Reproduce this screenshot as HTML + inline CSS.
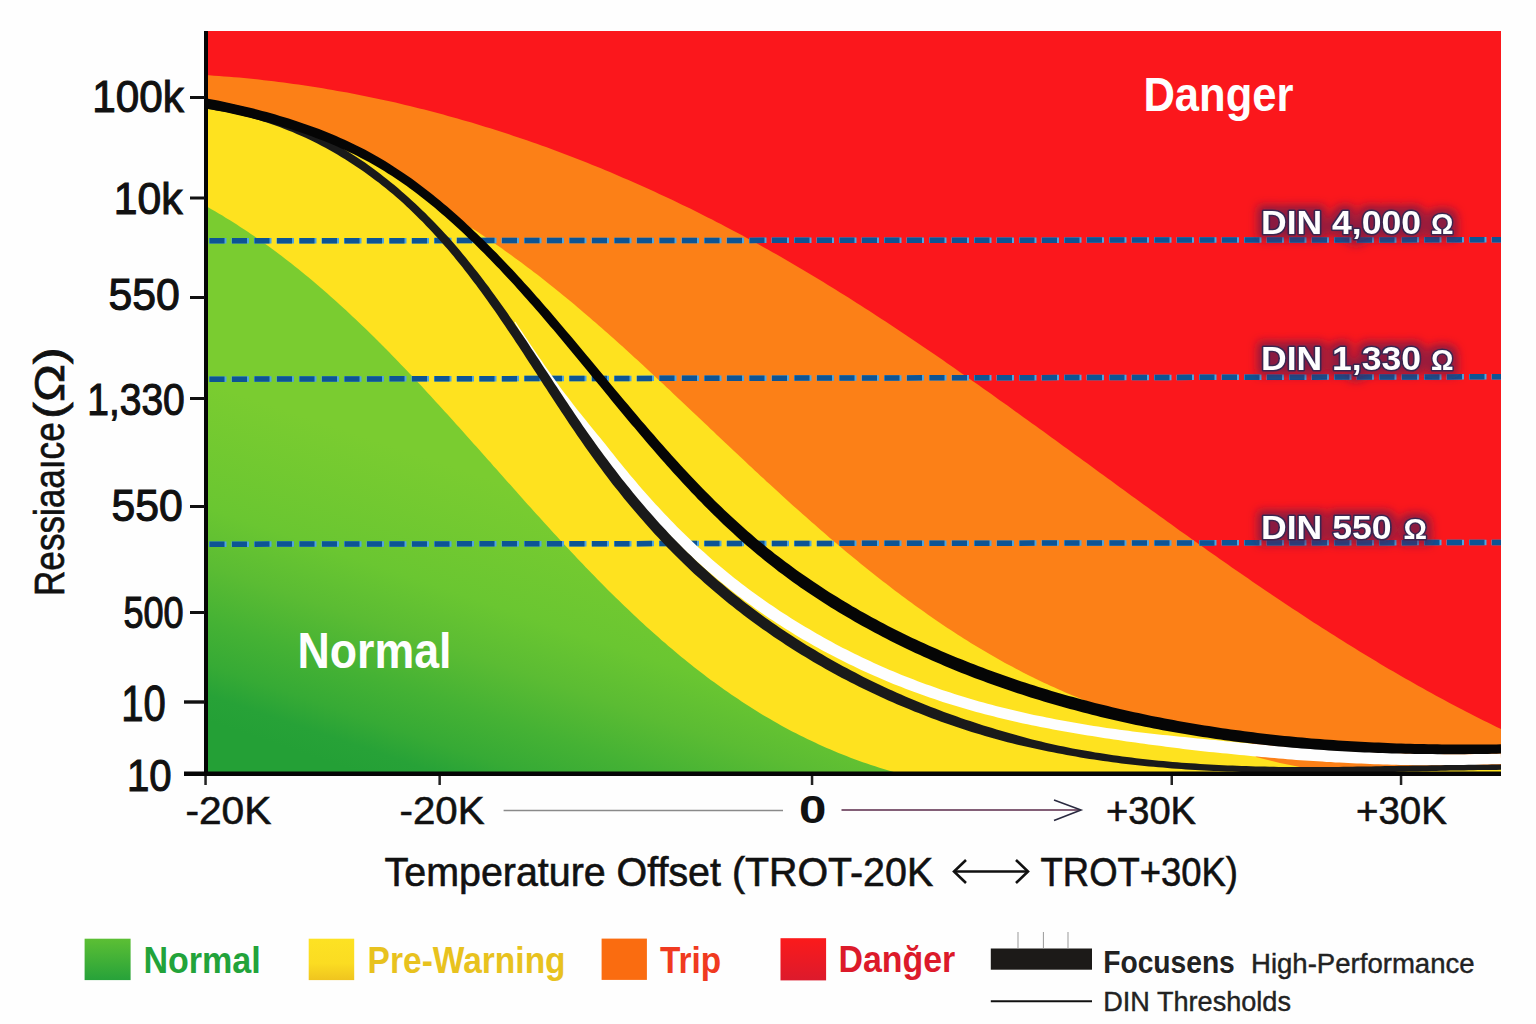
<!DOCTYPE html><html><head><meta charset="utf-8"><title>Resistance vs Temperature Offset</title><style>html,body{margin:0;padding:0;background:#fefefe;width:1536px;height:1024px;overflow:hidden;}svg{display:block;}text{font-family:"Liberation Sans", "DejaVu Sans", sans-serif;}</style></head><body>
<svg width="1536" height="1024" viewBox="0 0 1536 1024">
<defs>
<linearGradient id="gG" gradientUnits="userSpaceOnUse" x1="204" y1="720" x2="307" y2="417"><stop offset="0" stop-color="#24a036"/><stop offset="0.078" stop-color="#27a237"/><stop offset="0.166" stop-color="#36aa35"/><stop offset="0.3" stop-color="#45b234"/><stop offset="0.46" stop-color="#5bbc33"/><stop offset="0.63" stop-color="#6ac631"/><stop offset="1" stop-color="#7acc30"/></linearGradient>
<linearGradient id="lgG" x1="0" y1="0" x2="0" y2="1"><stop offset="0" stop-color="#5cbf34"/><stop offset="1" stop-color="#27a23a"/></linearGradient>
<linearGradient id="lgY" x1="0" y1="0" x2="0" y2="1"><stop offset="0" stop-color="#fde223"/><stop offset="0.6" stop-color="#fbdc22"/><stop offset="1" stop-color="#efc41f"/></linearGradient>
<linearGradient id="lgR" x1="0" y1="0" x2="0" y2="1"><stop offset="0" stop-color="#fb1a1b"/><stop offset="1" stop-color="#dc1a2c"/></linearGradient>
<filter id="dinfx" x="-10%" y="-30%" width="120%" height="160%"><feMorphology in="SourceAlpha" operator="dilate" radius="4" result="d"/><feGaussianBlur in="d" stdDeviation="5" result="b"/><feFlood flood-color="#5a1d50" flood-opacity="0.7"/><feComposite in2="b" operator="in" result="g"/><feMerge><feMergeNode in="g"/><feMergeNode in="SourceGraphic"/></feMerge></filter>
<clipPath id="plot"><rect x="206" y="31" width="1295" height="742"/></clipPath>
</defs>
<rect x="204" y="31" width="1297" height="742" fill="#fb171c"/>
<path d="M204.0,75.0 L209.0,75.3 L214.0,75.7 L219.0,76.0 L224.0,76.4 L229.0,76.8 L234.0,77.2 L239.0,77.6 L243.9,78.1 L248.9,78.6 L253.9,79.1 L258.8,79.6 L263.8,80.2 L268.7,80.7 L273.7,81.3 L278.6,81.9 L283.6,82.6 L288.5,83.2 L293.4,83.9 L298.3,84.6 L303.2,85.3 L308.1,86.0 L313.0,86.8 L317.9,87.6 L322.8,88.3 L327.7,89.2 L332.6,90.0 L337.4,90.9 L342.3,91.7 L347.2,92.6 L352.0,93.5 L356.9,94.5 L361.7,95.4 L366.6,96.4 L371.4,97.4 L376.2,98.4 L381.0,99.4 L385.9,100.5 L390.7,101.6 L395.5,102.6 L400.3,103.8 L405.1,104.9 L409.8,106.0 L414.6,107.2 L419.4,108.4 L424.2,109.6 L428.9,110.8 L433.7,112.0 L438.4,113.3 L443.2,114.6 L447.9,115.9 L452.6,117.2 L457.4,118.5 L462.1,119.9 L466.8,121.2 L471.5,122.6 L476.2,124.0 L480.9,125.4 L485.6,126.9 L490.3,128.3 L495.0,129.8 L499.6,131.3 L504.3,132.8 L509.0,134.3 L513.6,135.9 L518.3,137.4 L522.9,139.0 L527.5,140.6 L532.2,142.2 L536.8,143.8 L541.4,145.5 L546.0,147.1 L550.6,148.8 L555.2,150.5 L559.8,152.2 L564.4,153.9 L569.0,155.7 L573.6,157.5 L578.1,159.2 L582.7,161.0 L587.2,162.8 L591.8,164.7 L596.3,166.5 L600.9,168.3 L605.4,170.2 L609.9,172.1 L614.4,174.0 L618.9,175.9 L623.4,177.9 L627.9,179.8 L632.4,181.8 L636.9,183.7 L641.4,185.7 L645.9,187.8 L650.3,189.8 L654.8,191.8 L659.2,193.9 L663.7,195.9 L668.1,198.0 L672.5,200.1 L677.0,202.2 L681.4,204.4 L685.8,206.5 L690.2,208.6 L694.6,210.8 L699.0,213.0 L703.3,215.2 L707.7,217.4 L712.1,219.6 L716.5,221.9 L720.8,224.1 L725.2,226.4 L729.5,228.7 L733.8,231.0 L738.2,233.3 L742.5,235.6 L746.8,237.9 L751.1,240.3 L755.4,242.6 L759.7,245.0 L764.0,247.4 L768.3,249.8 L772.5,252.2 L776.8,254.6 L781.1,257.1 L785.3,259.5 L789.6,262.0 L793.8,264.5 L798.0,266.9 L802.3,269.4 L806.5,271.9 L810.7,274.5 L814.9,277.0 L819.1,279.5 L823.3,282.1 L827.5,284.7 L831.7,287.2 L835.8,289.8 L840.0,292.4 L844.2,295.0 L848.3,297.6 L852.5,300.3 L856.7,302.9 L860.8,305.5 L864.9,308.2 L869.1,310.8 L873.2,313.5 L877.3,316.2 L881.5,318.9 L885.6,321.6 L889.7,324.3 L893.8,327.0 L897.9,329.7 L902.0,332.5 L906.1,335.2 L910.2,337.9 L914.3,340.7 L918.4,343.4 L922.4,346.2 L926.5,349.0 L930.6,351.8 L934.7,354.5 L938.7,357.3 L942.8,360.1 L946.8,362.9 L950.9,365.8 L954.9,368.6 L959.0,371.4 L963.0,374.2 L967.1,377.1 L971.1,379.9 L975.2,382.7 L979.2,385.6 L983.2,388.4 L987.3,391.3 L991.3,394.1 L995.3,397.0 L999.3,399.9 L1003.4,402.7 L1007.4,405.6 L1011.4,408.5 L1015.4,411.4 L1019.4,414.3 L1023.4,417.2 L1027.4,420.0 L1031.4,422.9 L1035.5,425.8 L1039.5,428.7 L1043.5,431.6 L1047.5,434.5 L1051.5,437.4 L1055.5,440.3 L1059.5,443.3 L1063.5,446.2 L1067.5,449.1 L1071.5,452.0 L1075.5,454.9 L1079.5,457.8 L1083.5,460.7 L1087.5,463.6 L1091.5,466.6 L1095.5,469.5 L1099.5,472.4 L1103.5,475.3 L1107.5,478.2 L1111.5,481.1 L1115.4,484.0 L1119.4,486.9 L1123.4,489.8 L1127.4,492.8 L1131.4,495.7 L1135.4,498.6 L1139.5,501.5 L1143.5,504.4 L1147.5,507.3 L1151.5,510.2 L1155.5,513.1 L1159.5,516.0 L1163.5,518.8 L1167.5,521.7 L1171.5,524.6 L1175.5,527.5 L1179.5,530.4 L1183.6,533.2 L1187.6,536.1 L1191.6,539.0 L1195.6,541.8 L1199.6,544.7 L1203.7,547.6 L1207.7,550.4 L1211.7,553.2 L1215.8,556.1 L1219.8,558.9 L1223.9,561.8 L1227.9,564.6 L1231.9,567.4 L1236.0,570.2 L1240.1,573.0 L1244.1,575.8 L1248.2,578.6 L1252.2,581.4 L1256.3,584.2 L1260.4,587.0 L1264.4,589.7 L1268.5,592.5 L1272.6,595.2 L1276.7,598.0 L1280.8,600.7 L1284.9,603.5 L1289.0,606.2 L1293.1,608.9 L1297.2,611.6 L1301.3,614.3 L1305.4,617.0 L1309.5,619.7 L1313.6,622.4 L1317.8,625.0 L1321.9,627.7 L1326.0,630.3 L1330.2,633.0 L1334.3,635.6 L1338.5,638.2 L1342.6,640.8 L1346.8,643.4 L1351.0,646.0 L1355.1,648.6 L1359.3,651.2 L1363.5,653.7 L1367.7,656.3 L1371.9,658.8 L1376.1,661.3 L1380.3,663.9 L1384.5,666.4 L1388.7,668.9 L1393.0,671.3 L1397.2,673.8 L1401.4,676.3 L1405.7,678.7 L1410.0,681.1 L1414.2,683.5 L1418.5,686.0 L1422.8,688.3 L1427.0,690.7 L1431.3,693.1 L1435.6,695.4 L1439.9,697.8 L1444.2,700.1 L1448.6,702.4 L1452.9,704.7 L1457.2,707.0 L1461.6,709.3 L1465.9,711.5 L1470.3,713.8 L1474.6,716.0 L1479.0,718.2 L1483.4,720.4 L1487.8,722.6 L1492.2,724.7 L1496.6,726.9 L1501.0,729.0 L1501.0,773.0 L204.0,773.0Z" fill="#fc8017"/>
<path d="M204.0,773.0 L204.0,103.0 L204.0,103.0 L208.3,103.8 L212.7,104.6 L217.1,105.5 L221.4,106.4 L225.8,107.3 L230.2,108.2 L234.6,109.2 L239.0,110.2 L243.4,111.2 L247.8,112.3 L252.2,113.3 L256.6,114.5 L261.0,115.6 L265.4,116.8 L269.8,118.0 L274.2,119.2 L278.5,120.5 L282.9,121.8 L287.3,123.1 L291.6,124.5 L296.0,125.9 L300.3,127.3 L304.6,128.8 L308.9,130.4 L313.2,131.9 L317.5,133.5 L321.7,135.1 L326.0,136.8 L330.2,138.5 L334.4,140.3 L338.6,142.1 L342.7,144.0 L346.8,145.8 L350.9,147.8 L355.0,149.8 L359.0,151.8 L363.1,153.9 L367.1,156.0 L371.0,158.1 L374.9,160.3 L378.8,162.6 L382.7,164.9 L386.5,167.3 L390.3,169.7 L394.1,172.1 L397.8,174.6 L401.6,177.1 L405.3,179.6 L408.9,182.2 L412.6,184.9 L416.2,187.5 L419.8,190.2 L423.3,193.0 L426.9,195.7 L430.4,198.5 L433.9,201.3 L437.3,204.2 L440.8,207.1 L444.2,210.0 L447.6,212.9 L451.0,215.9 L454.3,218.9 L457.7,221.9 L461.0,224.9 L464.3,228.0 L467.6,231.0 L462.0,222.0 L465.4,224.1 L468.8,226.3 L472.2,228.4 L475.5,230.6 L478.9,232.8 L482.2,235.0 L485.5,237.2 L488.8,239.5 L492.1,241.7 L495.4,244.0 L498.7,246.3 L502.0,248.6 L505.2,250.9 L508.5,253.2 L511.7,255.5 L514.9,257.9 L518.1,260.2 L521.3,262.6 L524.5,265.0 L527.7,267.4 L530.9,269.8 L534.0,272.2 L537.2,274.6 L540.4,277.1 L543.5,279.5 L546.6,282.0 L549.7,284.5 L552.9,287.0 L556.0,289.5 L559.1,292.0 L562.1,294.5 L565.2,297.0 L568.3,299.5 L571.4,302.1 L574.4,304.6 L577.5,307.2 L580.5,309.8 L583.6,312.4 L586.6,314.9 L589.6,317.5 L592.6,320.2 L595.7,322.8 L598.7,325.4 L601.7,328.0 L604.7,330.7 L607.7,333.3 L610.7,336.0 L613.6,338.6 L616.6,341.3 L619.6,343.9 L622.6,346.6 L625.5,349.3 L628.5,352.0 L631.5,354.7 L634.4,357.4 L637.4,360.1 L640.3,362.8 L643.3,365.5 L646.2,368.2 L649.1,371.0 L652.1,373.7 L655.0,376.4 L657.9,379.2 L660.9,381.9 L663.8,384.6 L666.7,387.4 L669.7,390.1 L672.6,392.9 L675.5,395.7 L678.4,398.4 L681.4,401.2 L684.3,403.9 L687.2,406.7 L690.1,409.5 L693.0,412.2 L696.0,415.0 L698.9,417.8 L701.8,420.5 L704.7,423.3 L707.7,426.1 L710.6,428.9 L713.5,431.6 L716.4,434.4 L719.4,437.2 L722.3,440.0 L725.2,442.7 L728.2,445.5 L731.1,448.3 L734.0,451.0 L737.0,453.8 L739.9,456.6 L742.9,459.3 L745.8,462.1 L748.8,464.9 L751.7,467.6 L754.7,470.4 L757.6,473.1 L760.6,475.9 L763.6,478.6 L766.5,481.4 L769.5,484.1 L772.5,486.8 L775.5,489.6 L778.5,492.3 L781.4,495.0 L784.4,497.8 L787.4,500.5 L790.4,503.2 L793.4,505.9 L796.4,508.6 L799.5,511.3 L802.5,514.0 L805.5,516.6 L808.5,519.3 L811.5,522.0 L814.6,524.6 L817.6,527.3 L820.7,530.0 L823.7,532.6 L826.8,535.2 L829.8,537.9 L832.9,540.5 L836.0,543.1 L839.0,545.7 L842.1,548.3 L845.2,550.9 L848.3,553.4 L851.4,556.0 L854.5,558.6 L857.6,561.1 L860.7,563.7 L863.9,566.2 L867.0,568.7 L870.1,571.2 L873.3,573.7 L876.4,576.2 L879.6,578.7 L882.7,581.2 L885.9,583.6 L889.1,586.1 L892.2,588.5 L895.4,590.9 L898.6,593.3 L901.8,595.7 L905.0,598.1 L908.2,600.5 L911.5,602.8 L914.7,605.2 L917.9,607.5 L921.2,609.8 L924.4,612.1 L927.7,614.4 L931.0,616.7 L934.2,619.0 L937.5,621.2 L940.8,623.5 L944.1,625.7 L947.4,627.9 L950.7,630.1 L954.1,632.2 L957.4,634.4 L960.7,636.5 L964.1,638.7 L967.5,640.8 L970.8,642.9 L974.2,645.0 L977.6,647.0 L981.0,649.1 L984.4,651.1 L987.8,653.1 L991.2,655.1 L994.7,657.1 L998.1,659.0 L1001.6,660.9 L1005.0,662.9 L1008.5,664.8 L1012.0,666.6 L1015.5,668.5 L1019.0,670.3 L1022.5,672.2 L1026.0,674.0 L1029.5,675.8 L1033.1,677.5 L1036.6,679.3 L1040.2,681.0 L1043.8,682.7 L1047.4,684.3 L1050.9,686.0 L1054.6,687.6 L1058.2,689.2 L1061.8,690.8 L1065.4,692.4 L1069.1,693.9 L1072.7,695.4 L1076.4,696.9 L1080.1,698.4 L1083.8,699.9 L1087.5,701.3 L1091.2,702.7 L1094.9,704.0 L1098.7,705.4 L1102.4,706.7 L1106.2,708.0 L1109.9,709.3 L1113.7,710.5 L1117.5,711.7 L1121.3,712.9 L1125.1,714.0 L1129.0,715.2 L1132.8,716.3 L1136.7,717.4 L1140.5,718.4 L1144.4,719.4 L1148.3,720.4 L1152.2,721.4 L1156.1,722.3 L1160.0,723.2 L1164.0,724.1 L1167.9,724.9 L1171.9,725.7 L1175.9,726.5 L1179.9,727.2 L1183.9,728.0 L1187.9,728.6 L1191.9,729.3 L1195.9,729.9 L1200.0,730.5 L1225.0,735.0 L1250.0,738.0 L1256.0,757.0 L1280.0,763.0 L1300.0,767.0 L1501.0,767.0 L1501.0,773.0Z" fill="#fee21f"/>
<path d="M204.0,773.0 L204.0,205.0 L207.7,207.1 L211.4,209.2 L215.1,211.3 L218.7,213.5 L222.4,215.6 L226.0,217.9 L229.6,220.1 L233.2,222.3 L236.8,224.6 L240.3,226.9 L243.9,229.2 L247.4,231.5 L250.9,233.9 L254.4,236.3 L257.8,238.7 L261.3,241.1 L264.7,243.6 L268.2,246.0 L271.6,248.5 L275.0,251.0 L278.3,253.5 L281.7,256.1 L285.1,258.7 L288.4,261.2 L291.7,263.8 L295.0,266.5 L298.3,269.1 L301.6,271.8 L304.9,274.4 L308.1,277.1 L311.4,279.8 L314.6,282.5 L317.8,285.3 L321.0,288.0 L324.2,290.8 L327.4,293.6 L330.6,296.4 L333.8,299.2 L336.9,302.0 L340.1,304.9 L343.2,307.7 L346.3,310.6 L349.4,313.5 L352.5,316.4 L355.6,319.3 L358.7,322.2 L361.8,325.2 L364.8,328.1 L367.9,331.1 L370.9,334.1 L374.0,337.1 L377.0,340.1 L380.0,343.1 L383.0,346.1 L386.0,349.1 L389.0,352.1 L392.0,355.2 L395.0,358.3 L397.9,361.3 L400.9,364.4 L403.9,367.5 L406.8,370.6 L409.8,373.7 L412.7,376.8 L415.6,379.9 L418.6,383.0 L421.5,386.1 L424.4,389.3 L427.3,392.4 L430.2,395.6 L433.1,398.7 L436.0,401.9 L438.9,405.1 L441.8,408.2 L444.7,411.4 L447.6,414.6 L450.5,417.8 L453.4,421.0 L456.2,424.2 L459.1,427.3 L462.0,430.5 L464.8,433.7 L467.7,437.0 L470.6,440.2 L473.4,443.4 L476.3,446.6 L479.2,449.8 L482.0,453.0 L484.9,456.2 L487.7,459.4 L490.6,462.6 L493.4,465.9 L496.3,469.1 L499.1,472.3 L502.0,475.5 L504.8,478.7 L507.7,481.9 L510.6,485.1 L513.4,488.3 L516.3,491.6 L519.1,494.8 L522.0,498.0 L524.8,501.2 L527.7,504.4 L530.6,507.5 L533.4,510.7 L536.3,513.9 L539.2,517.1 L542.1,520.3 L545.0,523.4 L547.8,526.6 L550.7,529.8 L553.6,532.9 L556.5,536.1 L559.4,539.2 L562.3,542.3 L565.2,545.5 L568.1,548.6 L571.1,551.7 L574.0,554.8 L576.9,557.9 L579.8,561.0 L582.8,564.1 L585.7,567.2 L588.7,570.2 L591.6,573.3 L594.6,576.3 L597.6,579.4 L600.6,582.4 L603.6,585.4 L606.5,588.4 L609.5,591.4 L612.6,594.4 L615.6,597.4 L618.6,600.3 L621.6,603.3 L624.7,606.2 L627.7,609.1 L630.8,612.0 L633.9,614.9 L636.9,617.8 L640.0,620.7 L643.1,623.6 L646.2,626.4 L649.4,629.2 L652.5,632.0 L655.6,634.8 L658.8,637.6 L661.9,640.4 L665.1,643.1 L668.3,645.9 L671.5,648.6 L674.7,651.3 L677.9,654.0 L681.1,656.7 L684.4,659.3 L687.7,661.9 L690.9,664.6 L694.2,667.2 L697.5,669.7 L700.8,672.3 L704.1,674.8 L707.5,677.4 L710.8,679.9 L714.2,682.3 L717.6,684.8 L721.0,687.2 L724.4,689.7 L727.8,692.1 L731.2,694.4 L734.7,696.8 L738.2,699.1 L741.6,701.5 L745.1,703.7 L748.7,706.0 L752.2,708.3 L755.8,710.5 L759.3,712.7 L762.9,714.9 L766.5,717.0 L770.1,719.1 L773.8,721.2 L777.4,723.3 L781.1,725.4 L784.8,727.4 L788.5,729.4 L792.2,731.4 L796.0,733.3 L799.7,735.2 L803.5,737.1 L807.3,739.0 L811.2,740.8 L815.0,742.6 L818.9,744.4 L822.8,746.2 L826.7,747.9 L830.6,749.6 L834.5,751.3 L838.5,752.9 L842.5,754.5 L846.5,756.1 L850.5,757.7 L854.6,759.2 L858.7,760.7 L862.8,762.2 L866.9,763.6 L871.0,765.0 L875.2,766.3 L879.4,767.7 L883.6,769.0 L887.8,770.3 L892.1,771.5 L896.4,772.7 L900.7,773.9 L905.0,775.0 L900.0,773.0Z" fill="url(#gG)"/>
<line x1="208" y1="240.8" x2="1501" y2="239.8" stroke="#4fa6e0" stroke-width="5.5" stroke-dasharray="17.5 5" stroke-dashoffset="-1"/>
<line x1="208" y1="240.8" x2="1501" y2="239.8" stroke="#0d5494" stroke-width="5.5" stroke-dasharray="15 7.5" stroke-dashoffset="-1.5"/>
<line x1="208" y1="379.2" x2="1501" y2="376.8" stroke="#4fa6e0" stroke-width="5.5" stroke-dasharray="17.5 5" stroke-dashoffset="-1"/>
<line x1="208" y1="379.2" x2="1501" y2="376.8" stroke="#0d5494" stroke-width="5.5" stroke-dasharray="15 7.5" stroke-dashoffset="-1.5"/>
<line x1="208" y1="544.2" x2="1501" y2="542.5" stroke="#4fa6e0" stroke-width="5.5" stroke-dasharray="17.5 5" stroke-dashoffset="-1"/>
<line x1="208" y1="544.2" x2="1501" y2="542.5" stroke="#0d5494" stroke-width="5.5" stroke-dasharray="15 7.5" stroke-dashoffset="-1.5"/>
<g clip-path="url(#plot)">
<path d="M514.6,322.3 L516.8,326.0 L519.0,329.7 L521.3,333.4 L523.5,337.1 L525.8,340.7 L528.1,344.4 L530.4,348.1 L532.6,351.8 L535.0,355.5 L537.3,359.1 L539.6,362.8 L541.9,366.5 L544.3,370.1 L546.6,373.8 L549.0,377.4 L551.4,381.1 L553.8,384.7 L556.2,388.4 L558.6,392.0 L560.9,395.7 L563.3,399.4 L565.7,403.1 L568.0,406.7 L570.4,410.4 L572.8,414.1 L575.2,417.7 L577.6,421.4 L580.1,425.0 L582.5,428.7 L585.0,432.3 L587.4,436.0 L589.9,439.6 L592.4,443.2 L594.9,446.8 L597.5,450.4 L600.2,453.9 L602.9,457.4 L605.6,460.9 L608.3,464.3 L611.0,467.8 L613.7,471.2 L616.5,474.7 L619.3,478.1 L622.0,481.5 L624.8,484.9 L627.7,488.3 L630.5,491.7 L633.3,495.0 L636.2,498.4 L639.1,501.7 L642.0,505.0 L644.9,508.3 L647.8,511.6 L650.8,514.9 L653.7,518.1 L656.7,521.4 L659.7,524.6 L662.7,527.8 L665.8,531.0 L668.8,534.1 L671.9,537.3 L675.0,540.4 L678.1,543.5 L681.2,546.6 L684.4,549.7 L687.6,552.7 L690.8,555.7 L694.0,558.7 L697.2,561.7 L700.5,564.6 L703.7,567.5 L707.0,570.4 L710.4,573.3 L713.7,576.1 L717.1,579.0 L720.5,581.8 L723.9,584.5 L727.3,587.3 L730.7,590.0 L734.2,592.7 L737.6,595.4 L741.1,598.0 L744.6,600.7 L748.1,603.3 L751.7,605.8 L755.2,608.4 L758.8,610.9 L762.4,613.4 L766.0,615.9 L769.6,618.4 L773.3,620.8 L776.9,623.2 L780.6,625.6 L784.3,628.0 L788.0,630.3 L791.7,632.6 L795.5,634.9 L799.2,637.2 L803.0,639.4 L806.8,641.6 L810.6,643.8 L814.4,645.9 L818.2,648.1 L822.0,650.2 L825.9,652.3 L829.8,654.3 L833.7,656.3 L837.5,658.3 L841.5,660.3 L845.4,662.3 L849.3,664.2 L853.3,666.1 L857.2,668.0 L861.2,669.9 L865.2,671.7 L869.1,673.5 L873.1,675.3 L877.2,677.1 L881.2,678.8 L885.2,680.5 L889.3,682.2 L893.3,683.9 L897.4,685.5 L901.5,687.1 L905.5,688.7 L909.6,690.3 L913.7,691.8 L917.9,693.3 L922.0,694.8 L926.1,696.3 L930.3,697.7 L934.4,699.1 L938.6,700.5 L942.7,701.9 L946.9,703.2 L951.1,704.5 L955.3,705.8 L959.5,707.1 L963.7,708.3 L967.9,709.5 L972.1,710.7 L976.3,711.9 L980.5,713.0 L984.8,714.2 L989.0,715.3 L993.3,716.3 L997.5,717.4 L1001.8,718.4 L1006.0,719.5 L1010.3,720.5 L1014.6,721.5 L1018.8,722.4 L1023.1,723.4 L1027.4,724.3 L1031.7,725.2 L1036.0,726.1 L1040.3,727.0 L1044.6,727.8 L1048.9,728.6 L1053.2,729.5 L1057.5,730.3 L1061.8,731.1 L1066.1,731.8 L1070.5,732.6 L1074.8,733.3 L1079.1,734.0 L1083.4,734.8 L1087.8,735.5 L1092.1,736.1 L1096.5,736.8 L1100.8,737.5 L1105.1,738.2 L1109.5,738.8 L1113.8,739.5 L1118.1,740.1 L1122.5,740.8 L1126.8,741.4 L1131.2,742.0 L1135.5,742.6 L1139.9,743.2 L1144.2,743.8 L1148.6,744.4 L1152.9,745.0 L1157.3,745.5 L1161.6,746.1 L1165.9,746.7 L1170.3,747.2 L1174.6,747.8 L1179.0,748.3 L1183.3,748.9 L1187.7,749.4 L1192.0,749.9 L1196.4,750.4 L1200.7,750.9 L1205.0,751.4 L1209.4,751.9 L1213.7,752.3 L1218.1,752.8 L1222.4,753.2 L1226.8,753.6 L1231.1,754.1 L1235.4,754.5 L1239.8,754.9 L1244.1,755.3 L1248.5,755.8 L1252.8,756.2 L1257.1,756.6 L1261.5,757.0 L1265.8,757.3 L1270.2,757.7 L1274.5,758.1 L1278.8,758.5 L1283.2,758.8 L1287.5,759.2 L1291.8,759.5 L1296.2,759.9 L1300.5,760.2 L1304.9,760.5 L1309.2,760.8 L1313.5,761.1 L1317.9,761.3 L1322.2,761.6 L1326.6,761.9 L1330.9,762.1 L1335.3,762.4 L1339.6,762.6 L1344.0,762.8 L1348.3,763.0 L1352.6,763.3 L1357.0,763.5 L1361.3,763.6 L1365.7,763.8 L1370.0,764.0 L1374.4,764.2 L1378.7,764.3 L1383.1,764.5 L1387.4,764.6 L1391.8,764.7 L1396.2,764.8 L1400.5,764.9 L1404.9,765.0 L1409.2,765.1 L1413.6,765.2 L1418.0,765.2 L1422.3,765.2 L1426.7,765.3 L1431.1,765.3 L1435.4,765.3 L1439.8,765.3 L1444.2,765.3 L1448.5,765.3 L1452.9,765.2 L1457.3,765.2 L1461.7,765.1 L1466.1,765.0 L1470.4,764.9 L1474.8,764.9 L1479.2,764.7 L1483.6,764.6 L1488.0,764.5 L1492.4,764.3 L1496.8,764.2 L1501.2,764.0 L1500.8,753.6 L1496.5,753.7 L1492.1,753.8 L1487.7,753.9 L1483.4,754.0 L1479.0,754.1 L1474.6,754.1 L1470.3,754.2 L1465.9,754.2 L1461.6,754.2 L1457.2,754.2 L1452.9,754.2 L1448.5,754.2 L1444.2,754.2 L1439.8,754.1 L1435.5,754.1 L1431.2,754.0 L1426.8,753.9 L1422.5,753.8 L1418.2,753.7 L1413.8,753.6 L1409.5,753.5 L1405.2,753.4 L1400.8,753.2 L1396.5,753.1 L1392.2,753.0 L1387.8,752.8 L1383.5,752.6 L1379.2,752.5 L1374.9,752.3 L1370.5,752.1 L1366.2,751.9 L1361.9,751.7 L1357.6,751.4 L1353.3,751.2 L1348.9,750.9 L1344.6,750.7 L1340.3,750.4 L1336.0,750.2 L1331.7,749.9 L1327.3,749.6 L1323.0,749.3 L1318.7,749.0 L1314.4,748.7 L1310.1,748.4 L1305.8,748.1 L1301.4,747.7 L1297.1,747.4 L1292.8,747.1 L1288.5,746.7 L1284.2,746.4 L1279.8,746.1 L1275.5,745.7 L1271.2,745.4 L1266.9,745.0 L1262.6,744.6 L1258.2,744.2 L1253.9,743.9 L1249.6,743.5 L1245.3,743.1 L1241.0,742.7 L1236.6,742.3 L1232.3,741.8 L1228.0,741.4 L1223.6,741.0 L1219.3,740.6 L1215.0,740.1 L1210.7,739.7 L1206.3,739.2 L1202.0,738.8 L1197.7,738.4 L1193.3,738.0 L1189.0,737.5 L1184.6,737.1 L1180.3,736.7 L1176.0,736.2 L1171.6,735.8 L1167.3,735.3 L1162.9,734.9 L1158.6,734.4 L1154.3,733.9 L1149.9,733.5 L1145.6,733.0 L1141.3,732.4 L1136.9,731.9 L1132.6,731.4 L1128.3,730.8 L1123.9,730.2 L1119.6,729.7 L1115.3,729.1 L1111.0,728.5 L1106.7,727.9 L1102.3,727.3 L1098.0,726.6 L1093.7,725.9 L1089.4,725.2 L1085.1,724.5 L1080.8,723.8 L1076.5,723.1 L1072.3,722.3 L1068.0,721.6 L1063.7,720.8 L1059.4,720.0 L1055.2,719.2 L1050.9,718.3 L1046.6,717.5 L1042.4,716.6 L1038.1,715.8 L1033.9,714.9 L1029.6,713.9 L1025.4,713.0 L1021.2,712.1 L1016.9,711.1 L1012.7,710.1 L1008.5,709.1 L1004.3,708.1 L1000.1,707.0 L995.9,705.9 L991.7,704.8 L987.6,703.7 L983.4,702.6 L979.2,701.4 L975.1,700.2 L970.9,699.0 L966.8,697.8 L962.7,696.5 L958.5,695.3 L954.4,694.0 L950.3,692.6 L946.2,691.3 L942.1,689.9 L938.0,688.5 L934.0,687.1 L929.9,685.6 L925.8,684.2 L921.8,682.7 L917.7,681.2 L913.7,679.6 L909.7,678.1 L905.7,676.5 L901.7,674.9 L897.7,673.2 L893.7,671.6 L889.7,669.9 L885.8,668.2 L881.8,666.5 L877.9,664.7 L873.9,662.9 L870.0,661.1 L866.1,659.3 L862.2,657.5 L858.3,655.6 L854.5,653.7 L850.6,651.8 L846.8,649.8 L842.9,647.9 L839.1,645.9 L835.3,643.9 L831.5,641.8 L827.7,639.8 L824.0,637.7 L820.2,635.6 L816.5,633.4 L812.8,631.3 L809.1,629.1 L805.4,626.9 L801.7,624.7 L798.0,622.4 L794.3,620.2 L790.7,617.9 L787.1,615.6 L783.4,613.3 L779.8,610.9 L776.3,608.5 L772.7,606.1 L769.1,603.7 L765.6,601.2 L762.1,598.8 L758.6,596.3 L755.1,593.8 L751.6,591.2 L748.2,588.7 L744.7,586.1 L741.3,583.4 L737.9,580.8 L734.5,578.2 L731.2,575.5 L727.8,572.8 L724.5,570.0 L721.2,567.3 L717.9,564.5 L714.6,561.7 L711.4,558.9 L708.1,556.0 L704.9,553.1 L701.7,550.3 L698.5,547.4 L695.4,544.4 L692.2,541.5 L689.1,538.5 L686.0,535.5 L682.9,532.5 L679.8,529.4 L676.7,526.4 L673.7,523.3 L670.7,520.2 L667.7,517.1 L664.7,513.9 L661.7,510.8 L658.8,507.6 L655.8,504.4 L652.9,501.2 L650.0,497.9 L647.1,494.7 L644.2,491.4 L641.3,488.2 L638.5,484.9 L635.7,481.5 L632.9,478.2 L630.0,474.9 L627.3,471.5 L624.5,468.2 L621.7,464.8 L619.0,461.4 L616.2,458.0 L613.5,454.6 L610.8,451.2 L608.1,447.7 L605.4,444.3 L602.7,440.9 L599.9,437.5 L597.1,434.2 L594.3,430.8 L591.6,427.4 L588.8,424.0 L586.1,420.6 L583.4,417.2 L580.6,413.8 L577.9,410.4 L575.2,407.0 L572.5,403.5 L569.9,400.1 L567.2,396.6 L564.6,393.2 L561.9,389.7 L559.4,386.2 L556.8,382.6 L554.3,379.1 L551.8,375.6 L549.3,372.0 L546.8,368.4 L544.3,364.9 L541.9,361.3 L539.4,357.7 L537.0,354.2 L534.5,350.6 L532.1,347.0 L529.7,343.4 L527.3,339.8 L524.9,336.2 L522.5,332.6 L520.1,329.0 L517.8,325.4 L515.4,321.7Z" fill="#fefefe"/>
<path d="M203.4,108.5 L208.1,109.1 L212.8,109.7 L217.4,110.5 L222.0,111.3 L226.6,112.1 L231.1,113.0 L235.7,114.0 L240.2,115.1 L244.7,116.2 L249.1,117.3 L253.6,118.5 L258.0,119.8 L262.4,121.2 L266.8,122.6 L271.1,124.0 L275.5,125.5 L279.8,127.1 L284.0,128.7 L288.3,130.4 L292.5,132.1 L296.7,133.9 L300.9,135.8 L305.0,137.6 L309.2,139.6 L313.3,141.6 L317.3,143.6 L321.4,145.7 L325.4,147.8 L329.4,150.0 L333.4,152.3 L337.3,154.6 L341.2,156.9 L345.1,159.3 L348.9,161.7 L352.7,164.2 L356.5,166.7 L360.3,169.2 L364.0,171.8 L367.7,174.5 L371.4,177.2 L375.0,179.9 L378.6,182.6 L382.2,185.5 L385.8,188.3 L389.3,191.2 L392.8,194.1 L396.2,197.1 L399.7,200.1 L403.1,203.1 L406.4,206.2 L409.7,209.3 L413.0,212.5 L416.3,215.7 L419.5,218.9 L422.8,222.1 L425.9,225.4 L429.1,228.7 L432.2,232.1 L435.3,235.4 L438.4,238.8 L441.5,242.2 L444.5,245.7 L447.5,249.1 L450.4,252.6 L453.4,256.1 L456.3,259.7 L459.2,263.2 L462.1,266.8 L464.9,270.4 L467.7,274.0 L470.5,277.7 L473.3,281.4 L476.1,285.0 L478.8,288.7 L481.6,292.4 L484.3,296.2 L487.0,299.9 L489.6,303.7 L492.3,307.5 L495.0,311.3 L497.6,315.1 L500.2,318.9 L502.8,322.7 L505.4,326.5 L508.0,330.4 L510.6,334.2 L513.2,338.1 L515.7,342.0 L518.3,345.8 L520.9,349.7 L523.4,353.6 L525.9,357.5 L528.5,361.4 L531.0,365.3 L533.6,369.2 L536.1,373.1 L538.6,377.1 L541.2,381.0 L543.7,384.9 L546.3,388.8 L548.8,392.7 L551.3,396.6 L553.9,400.5 L556.5,404.4 L559.0,408.3 L561.6,412.2 L564.2,416.1 L566.8,420.0 L569.4,423.9 L572.0,427.7 L574.6,431.6 L577.2,435.4 L579.9,439.3 L582.5,443.1 L585.2,446.9 L587.9,450.7 L590.6,454.5 L593.3,458.3 L596.0,462.1 L598.8,465.8 L601.6,469.6 L604.3,473.3 L607.2,477.0 L610.0,480.7 L612.8,484.4 L615.7,488.0 L618.6,491.6 L621.5,495.3 L624.4,498.9 L627.4,502.5 L630.3,506.0 L633.3,509.6 L636.3,513.1 L639.3,516.6 L642.4,520.1 L645.4,523.6 L648.5,527.1 L651.6,530.5 L654.7,533.9 L657.9,537.3 L661.1,540.7 L664.2,544.1 L667.4,547.4 L670.7,550.7 L673.9,554.0 L677.2,557.3 L680.5,560.6 L683.8,563.8 L687.2,567.0 L690.5,570.2 L693.9,573.4 L697.3,576.5 L700.8,579.6 L704.2,582.7 L707.7,585.8 L711.2,588.8 L714.7,591.8 L718.3,594.8 L721.8,597.8 L725.4,600.8 L729.0,603.7 L732.7,606.6 L736.3,609.5 L740.0,612.3 L743.7,615.2 L747.4,618.0 L751.1,620.8 L754.9,623.5 L758.7,626.3 L762.4,629.0 L766.3,631.6 L770.1,634.3 L773.9,636.9 L777.8,639.6 L781.7,642.1 L785.6,644.7 L789.5,647.2 L793.4,649.8 L797.4,652.3 L801.4,654.7 L805.4,657.1 L809.4,659.5 L813.4,661.9 L817.4,664.3 L821.5,666.6 L825.6,668.9 L829.7,671.2 L833.8,673.4 L837.9,675.7 L842.0,677.9 L846.2,680.0 L850.3,682.2 L854.5,684.3 L858.7,686.4 L862.9,688.5 L867.1,690.5 L871.3,692.6 L875.6,694.6 L879.8,696.5 L884.1,698.5 L888.3,700.4 L892.6,702.3 L896.9,704.2 L901.2,706.0 L905.6,707.8 L909.9,709.6 L914.3,711.4 L918.6,713.1 L923.0,714.8 L927.3,716.5 L931.7,718.2 L936.1,719.8 L940.5,721.4 L944.9,723.0 L949.4,724.5 L953.8,726.0 L958.2,727.5 L962.7,729.0 L967.1,730.5 L971.6,731.9 L976.0,733.3 L980.5,734.6 L985.0,736.0 L989.5,737.3 L994.0,738.6 L998.5,739.8 L1003.0,741.0 L1007.5,742.2 L1012.0,743.3 L1016.6,744.4 L1021.1,745.5 L1025.7,746.5 L1030.2,747.6 L1034.8,748.6 L1039.3,749.5 L1043.9,750.5 L1048.4,751.4 L1053.0,752.3 L1057.5,753.2 L1062.1,754.1 L1066.6,755.0 L1071.2,755.8 L1075.8,756.6 L1080.3,757.4 L1084.9,758.2 L1089.5,758.9 L1094.0,759.6 L1098.6,760.3 L1103.2,761.0 L1107.8,761.6 L1112.4,762.2 L1116.9,762.8 L1121.5,763.4 L1126.1,763.9 L1130.7,764.5 L1135.3,765.0 L1139.9,765.4 L1144.5,765.9 L1149.1,766.4 L1153.7,766.8 L1158.3,767.2 L1162.9,767.6 L1167.5,768.0 L1172.1,768.4 L1176.7,768.7 L1181.4,769.1 L1186.0,769.4 L1190.6,769.7 L1195.2,770.0 L1199.8,770.2 L1204.4,770.5 L1209.1,770.7 L1213.7,770.9 L1218.3,771.1 L1222.9,771.3 L1227.5,771.5 L1232.2,771.6 L1236.8,771.8 L1241.4,771.9 L1246.1,772.0 L1250.7,772.1 L1255.3,772.2 L1260.0,772.3 L1264.6,772.4 L1269.2,772.5 L1273.9,772.5 L1278.5,772.6 L1283.1,772.6 L1287.8,772.6 L1292.4,772.6 L1297.1,772.6 L1301.7,772.6 L1306.3,772.7 L1311.0,772.7 L1315.6,772.7 L1320.3,772.7 L1324.9,772.6 L1329.5,772.6 L1334.2,772.6 L1338.8,772.6 L1343.5,772.5 L1348.1,772.5 L1352.7,772.5 L1357.4,772.4 L1362.0,772.3 L1366.7,772.3 L1371.3,772.2 L1376.0,772.2 L1380.6,772.1 L1385.2,772.0 L1389.9,772.0 L1394.5,771.9 L1399.2,771.8 L1403.8,771.7 L1408.4,771.6 L1413.1,771.5 L1417.7,771.4 L1422.4,771.3 L1427.0,771.2 L1431.6,771.1 L1436.3,770.9 L1440.9,770.8 L1445.5,770.7 L1450.2,770.6 L1454.8,770.5 L1459.4,770.5 L1464.0,770.4 L1468.7,770.3 L1473.3,770.2 L1477.9,770.1 L1482.5,770.0 L1487.2,770.0 L1491.8,769.9 L1496.4,769.9 L1501.0,769.8 L1501.0,764.6 L1496.4,764.6 L1491.7,764.6 L1487.1,764.7 L1482.5,764.7 L1477.8,764.7 L1473.2,764.8 L1468.6,764.8 L1464.0,764.9 L1459.3,764.9 L1454.7,765.0 L1450.1,765.0 L1445.4,765.1 L1440.8,765.2 L1436.1,765.2 L1431.5,765.3 L1426.9,765.4 L1422.2,765.4 L1417.6,765.5 L1413.0,765.6 L1408.3,765.7 L1403.7,765.7 L1399.0,765.8 L1394.4,765.9 L1389.8,766.0 L1385.1,766.1 L1380.5,766.2 L1375.9,766.3 L1371.2,766.4 L1366.6,766.5 L1361.9,766.5 L1357.3,766.6 L1352.7,766.7 L1348.0,766.8 L1343.4,766.8 L1338.8,766.9 L1334.1,766.9 L1329.5,767.0 L1324.9,767.0 L1320.2,767.1 L1315.6,767.1 L1311.0,767.1 L1306.3,767.1 L1301.7,767.1 L1297.1,767.1 L1292.4,767.1 L1287.8,767.0 L1283.2,767.0 L1278.6,766.9 L1273.9,766.8 L1269.3,766.7 L1264.7,766.6 L1260.1,766.5 L1255.5,766.4 L1250.8,766.3 L1246.2,766.1 L1241.6,766.0 L1237.0,765.8 L1232.4,765.6 L1227.8,765.4 L1223.2,765.2 L1218.6,765.0 L1214.0,764.7 L1209.4,764.5 L1204.8,764.2 L1200.2,763.9 L1195.6,763.6 L1191.0,763.3 L1186.4,763.0 L1181.8,762.7 L1177.2,762.3 L1172.7,761.9 L1168.1,761.5 L1163.5,761.1 L1158.9,760.7 L1154.3,760.2 L1149.8,759.8 L1145.2,759.3 L1140.6,758.7 L1136.1,758.2 L1131.5,757.6 L1127.0,757.1 L1122.4,756.5 L1117.9,755.8 L1113.3,755.2 L1108.8,754.5 L1104.3,753.8 L1099.7,753.1 L1095.2,752.4 L1090.7,751.6 L1086.1,750.8 L1081.6,750.0 L1077.1,749.2 L1072.6,748.4 L1068.1,747.5 L1063.6,746.6 L1059.1,745.7 L1054.6,744.7 L1050.1,743.7 L1045.6,742.7 L1041.1,741.6 L1036.6,740.5 L1032.2,739.4 L1027.7,738.2 L1023.3,737.0 L1018.8,735.8 L1014.4,734.6 L1009.9,733.3 L1005.5,732.0 L1001.1,730.7 L996.6,729.4 L992.2,728.1 L987.8,726.8 L983.4,725.4 L979.0,724.0 L974.6,722.6 L970.2,721.1 L965.8,719.7 L961.4,718.2 L957.0,716.6 L952.7,715.1 L948.3,713.5 L944.0,711.9 L939.7,710.3 L935.3,708.6 L931.0,707.0 L926.7,705.3 L922.4,703.5 L918.1,701.8 L913.9,700.0 L909.6,698.2 L905.4,696.4 L901.1,694.5 L896.9,692.7 L892.7,690.8 L888.5,688.9 L884.3,686.9 L880.1,685.0 L875.9,683.0 L871.7,681.0 L867.6,678.9 L863.5,676.9 L859.3,674.8 L855.2,672.6 L851.1,670.5 L847.1,668.3 L843.0,666.2 L839.0,663.9 L834.9,661.7 L830.9,659.4 L826.9,657.2 L822.9,654.8 L818.9,652.5 L815.0,650.1 L811.0,647.8 L807.1,645.4 L803.2,642.9 L799.3,640.5 L795.4,638.0 L791.6,635.5 L787.7,633.0 L783.9,630.5 L780.1,627.9 L776.3,625.3 L772.5,622.7 L768.7,620.1 L765.0,617.4 L761.3,614.7 L757.6,612.0 L753.9,609.3 L750.3,606.5 L746.6,603.7 L743.0,600.9 L739.4,598.1 L735.8,595.3 L732.3,592.4 L728.7,589.5 L725.2,586.6 L721.7,583.6 L718.2,580.7 L714.8,577.7 L711.4,574.7 L707.9,571.6 L704.6,568.6 L701.2,565.5 L697.9,562.4 L694.5,559.2 L691.3,556.1 L688.0,552.9 L684.7,549.7 L681.5,546.5 L678.3,543.3 L675.1,540.0 L671.9,536.7 L668.8,533.4 L665.7,530.1 L662.6,526.7 L659.5,523.4 L656.4,520.0 L653.4,516.6 L650.3,513.1 L647.3,509.7 L644.4,506.2 L641.4,502.8 L638.4,499.2 L635.5,495.7 L632.6,492.2 L629.7,488.6 L626.8,485.1 L624.0,481.5 L621.1,477.9 L618.3,474.2 L615.5,470.6 L612.7,467.0 L609.9,463.3 L607.1,459.6 L604.4,455.9 L601.7,452.2 L598.9,448.5 L596.2,444.8 L593.6,441.0 L590.9,437.2 L588.2,433.5 L585.6,429.7 L582.9,425.9 L580.3,422.0 L577.7,418.2 L575.1,414.4 L572.5,410.5 L569.9,406.7 L567.3,402.8 L564.7,399.0 L562.1,395.1 L559.6,391.2 L557.0,387.3 L554.4,383.4 L551.9,379.5 L549.3,375.6 L546.8,371.8 L544.2,367.9 L541.6,364.0 L539.1,360.1 L536.5,356.2 L533.9,352.3 L531.3,348.4 L528.8,344.5 L526.2,340.6 L523.6,336.8 L521.0,332.9 L518.3,329.0 L515.7,325.2 L513.1,321.3 L510.4,317.5 L507.8,313.6 L505.1,309.8 L502.4,306.0 L499.7,302.2 L497.0,298.4 L494.3,294.7 L491.5,290.9 L488.8,287.1 L486.0,283.4 L483.2,279.7 L480.4,276.0 L477.5,272.3 L474.6,268.7 L471.7,265.0 L468.8,261.4 L465.9,257.8 L462.9,254.2 L459.9,250.6 L456.9,247.1 L453.9,243.6 L450.8,240.1 L447.7,236.6 L444.6,233.2 L441.4,229.8 L438.3,226.4 L435.0,223.0 L431.8,219.7 L428.5,216.4 L425.2,213.1 L421.9,209.9 L418.6,206.7 L415.2,203.5 L411.8,200.4 L408.3,197.3 L404.9,194.2 L401.4,191.2 L397.9,188.1 L394.3,185.1 L390.7,182.2 L387.1,179.3 L383.5,176.4 L379.8,173.6 L376.1,170.8 L372.4,168.0 L368.6,165.3 L364.9,162.6 L361.0,160.0 L357.2,157.4 L353.3,154.9 L349.4,152.4 L345.4,149.9 L341.5,147.5 L337.4,145.2 L333.4,142.9 L329.3,140.6 L325.3,138.4 L321.1,136.2 L317.0,134.1 L312.8,132.1 L308.6,130.1 L304.4,128.1 L300.1,126.2 L295.8,124.3 L291.5,122.5 L287.1,120.8 L282.8,119.1 L278.4,117.5 L273.9,115.9 L269.5,114.4 L265.0,112.9 L260.5,111.5 L256.0,110.2 L251.4,108.9 L246.8,107.7 L242.2,106.5 L237.6,105.4 L233.0,104.4 L228.3,103.4 L223.6,102.5 L218.9,101.7 L214.1,100.9 L209.3,100.2 L204.6,99.5Z" fill="#1a1a1a"/>
<path d="M203.1,107.9 L207.4,108.7 L211.8,109.5 L216.1,110.4 L220.5,111.2 L224.8,112.1 L229.2,113.1 L233.5,114.0 L237.9,115.0 L242.3,116.0 L246.7,117.0 L251.0,118.1 L255.4,119.2 L259.8,120.3 L264.1,121.4 L268.5,122.6 L272.8,123.8 L277.2,125.1 L281.5,126.4 L285.9,127.7 L290.2,129.0 L294.5,130.4 L298.8,131.8 L303.1,133.3 L307.3,134.8 L311.6,136.3 L315.8,137.9 L320.0,139.5 L324.2,141.1 L328.4,142.8 L332.6,144.6 L336.7,146.3 L340.8,148.2 L344.9,150.0 L349.0,151.9 L353.0,153.8 L357.0,155.8 L361.0,157.9 L364.9,159.9 L368.8,162.1 L372.7,164.2 L376.6,166.5 L380.4,168.7 L384.2,171.0 L387.9,173.4 L391.7,175.8 L395.4,178.2 L399.1,180.7 L402.7,183.2 L406.4,185.8 L410.0,188.4 L413.5,191.1 L417.1,193.7 L420.6,196.5 L424.1,199.2 L427.6,202.0 L431.0,204.8 L434.5,207.6 L437.9,210.5 L441.3,213.4 L444.7,216.3 L448.0,219.2 L451.4,222.2 L454.7,225.2 L458.0,228.2 L461.3,231.3 L464.5,234.3 L467.8,237.4 L471.0,240.5 L474.2,243.6 L477.4,246.7 L480.6,249.9 L483.8,253.0 L486.9,256.2 L490.1,259.4 L493.2,262.7 L496.3,265.9 L499.4,269.1 L502.5,272.4 L505.5,275.7 L508.6,279.0 L511.7,282.3 L514.7,285.6 L517.7,289.0 L520.7,292.3 L523.7,295.7 L526.7,299.0 L529.7,302.4 L532.7,305.8 L535.7,309.2 L538.6,312.6 L541.6,316.1 L544.5,319.5 L547.5,322.9 L550.4,326.4 L553.4,329.8 L556.3,333.3 L559.2,336.8 L562.1,340.2 L565.0,343.7 L567.9,347.2 L570.8,350.7 L573.7,354.2 L576.6,357.7 L579.5,361.2 L582.4,364.7 L585.3,368.2 L588.2,371.7 L591.0,375.2 L593.9,378.8 L596.8,382.3 L599.7,385.8 L602.6,389.3 L605.4,392.8 L608.3,396.3 L611.2,399.9 L614.1,403.4 L617.0,406.9 L619.9,410.4 L622.8,413.9 L625.7,417.4 L628.6,420.9 L631.5,424.4 L634.5,427.8 L637.4,431.3 L640.3,434.8 L643.3,438.3 L646.2,441.7 L649.2,445.2 L652.1,448.6 L655.1,452.0 L658.1,455.5 L661.1,458.9 L664.1,462.3 L667.1,465.7 L670.1,469.0 L673.1,472.4 L676.2,475.8 L679.2,479.1 L682.3,482.4 L685.4,485.8 L688.5,489.1 L691.6,492.4 L694.7,495.6 L697.8,498.9 L701.0,502.1 L704.2,505.4 L707.3,508.6 L710.5,511.8 L713.8,515.0 L717.0,518.1 L720.2,521.3 L723.5,524.4 L726.8,527.5 L730.1,530.6 L733.4,533.6 L736.8,536.7 L740.1,539.7 L743.5,542.7 L746.9,545.7 L750.3,548.6 L753.8,551.6 L757.3,554.5 L760.8,557.3 L764.3,560.2 L767.8,563.0 L771.4,565.8 L774.9,568.6 L778.5,571.4 L782.1,574.1 L785.8,576.8 L789.4,579.5 L793.1,582.2 L796.8,584.8 L800.5,587.4 L804.3,590.0 L808.0,592.6 L811.8,595.1 L815.6,597.6 L819.4,600.1 L823.2,602.6 L827.1,605.0 L830.9,607.4 L834.8,609.8 L838.7,612.2 L842.6,614.5 L846.5,616.8 L850.4,619.1 L854.4,621.4 L858.4,623.7 L862.4,625.9 L866.3,628.1 L870.4,630.3 L874.4,632.5 L878.4,634.6 L882.5,636.7 L886.5,638.8 L890.6,640.9 L894.7,643.0 L898.8,645.0 L902.9,647.0 L907.0,649.0 L911.2,650.9 L915.3,652.9 L919.5,654.8 L923.6,656.7 L927.8,658.6 L932.0,660.4 L936.2,662.3 L940.4,664.1 L944.6,665.9 L948.9,667.7 L953.1,669.4 L957.3,671.2 L961.6,672.9 L965.8,674.6 L970.1,676.2 L974.4,677.9 L978.7,679.5 L983.0,681.1 L987.3,682.7 L991.6,684.3 L995.9,685.8 L1000.2,687.3 L1004.5,688.8 L1008.9,690.3 L1013.2,691.8 L1017.5,693.2 L1021.9,694.6 L1026.2,696.0 L1030.6,697.4 L1034.9,698.8 L1039.3,700.1 L1043.7,701.4 L1048.0,702.7 L1052.4,704.0 L1056.8,705.3 L1061.2,706.5 L1065.5,707.7 L1069.9,709.0 L1074.3,710.1 L1078.7,711.3 L1083.1,712.5 L1087.5,713.6 L1091.9,714.7 L1096.3,715.8 L1100.7,716.9 L1105.1,718.0 L1109.5,719.0 L1113.9,720.0 L1118.3,721.0 L1122.7,722.0 L1127.2,723.0 L1131.6,723.9 L1136.0,724.9 L1140.4,725.8 L1144.9,726.7 L1149.3,727.6 L1153.7,728.5 L1158.2,729.3 L1162.6,730.2 L1167.1,731.0 L1171.5,731.8 L1175.9,732.6 L1180.4,733.3 L1184.9,734.1 L1189.3,734.8 L1193.8,735.6 L1198.2,736.3 L1202.7,737.0 L1207.1,737.6 L1211.6,738.3 L1216.1,738.9 L1220.6,739.6 L1225.0,740.2 L1229.5,740.8 L1234.0,741.4 L1238.5,741.9 L1242.9,742.5 L1247.4,743.0 L1251.9,743.5 L1256.4,744.1 L1260.9,744.6 L1265.4,745.0 L1269.9,745.5 L1274.4,746.0 L1278.9,746.4 L1283.3,746.8 L1287.8,747.3 L1292.4,747.7 L1296.9,748.0 L1301.4,748.4 L1305.9,748.8 L1310.4,749.1 L1314.9,749.5 L1319.4,749.8 L1323.9,750.1 L1328.4,750.4 L1332.9,750.7 L1337.5,751.0 L1342.0,751.2 L1346.5,751.5 L1351.0,751.7 L1355.6,751.9 L1360.1,752.2 L1364.6,752.4 L1369.1,752.6 L1373.7,752.7 L1378.2,752.9 L1382.7,753.1 L1387.3,753.2 L1391.8,753.4 L1396.4,753.5 L1400.9,753.6 L1405.4,753.7 L1410.0,753.8 L1414.5,753.9 L1419.1,754.0 L1423.6,754.0 L1428.2,754.1 L1432.7,754.1 L1437.3,754.2 L1441.8,754.2 L1446.4,754.2 L1450.9,754.2 L1455.5,754.2 L1460.0,754.2 L1464.6,754.2 L1469.1,754.1 L1473.7,754.1 L1478.3,754.0 L1482.8,754.0 L1487.4,753.9 L1492.0,753.8 L1496.5,753.7 L1501.1,753.6 L1500.9,744.3 L1496.4,744.4 L1491.8,744.5 L1487.3,744.5 L1482.7,744.5 L1478.2,744.5 L1473.6,744.6 L1469.1,744.6 L1464.6,744.6 L1460.0,744.6 L1455.5,744.5 L1451.0,744.5 L1446.4,744.5 L1441.9,744.4 L1437.4,744.3 L1432.8,744.3 L1428.3,744.2 L1423.8,744.1 L1419.3,744.0 L1414.7,743.9 L1410.2,743.8 L1405.7,743.7 L1401.2,743.5 L1396.7,743.4 L1392.1,743.2 L1387.6,743.0 L1383.1,742.8 L1378.6,742.6 L1374.1,742.4 L1369.6,742.2 L1365.1,742.0 L1360.6,741.8 L1356.1,741.5 L1351.6,741.2 L1347.1,741.0 L1342.6,740.7 L1338.1,740.4 L1333.6,740.1 L1329.2,739.8 L1324.7,739.4 L1320.2,739.1 L1315.7,738.7 L1311.2,738.4 L1306.8,738.0 L1302.3,737.6 L1297.8,737.2 L1293.4,736.7 L1288.9,736.3 L1284.4,735.9 L1280.0,735.4 L1275.5,734.9 L1271.0,734.4 L1266.6,733.9 L1262.1,733.4 L1257.7,732.9 L1253.2,732.3 L1248.8,731.8 L1244.4,731.2 L1239.9,730.6 L1235.5,730.0 L1231.0,729.4 L1226.6,728.8 L1222.2,728.2 L1217.8,727.5 L1213.3,726.8 L1208.9,726.1 L1204.5,725.4 L1200.1,724.7 L1195.7,724.0 L1191.2,723.3 L1186.8,722.5 L1182.4,721.7 L1178.0,720.9 L1173.6,720.1 L1169.2,719.3 L1164.8,718.5 L1160.4,717.6 L1156.0,716.8 L1151.7,715.9 L1147.3,715.0 L1142.9,714.1 L1138.5,713.1 L1134.1,712.2 L1129.8,711.2 L1125.4,710.2 L1121.0,709.2 L1116.7,708.2 L1112.3,707.2 L1107.9,706.1 L1103.6,705.1 L1099.2,704.0 L1094.9,702.9 L1090.5,701.8 L1086.2,700.6 L1081.9,699.5 L1077.5,698.3 L1073.2,697.1 L1068.8,695.9 L1064.5,694.7 L1060.2,693.4 L1055.9,692.2 L1051.6,690.9 L1047.2,689.6 L1042.9,688.3 L1038.6,686.9 L1034.3,685.6 L1030.0,684.2 L1025.7,682.8 L1021.4,681.4 L1017.1,680.0 L1012.9,678.5 L1008.6,677.0 L1004.3,675.5 L1000.1,674.0 L995.8,672.5 L991.6,671.0 L987.3,669.4 L983.1,667.8 L978.8,666.2 L974.6,664.6 L970.4,663.0 L966.2,661.3 L962.0,659.6 L957.8,657.9 L953.6,656.2 L949.4,654.5 L945.3,652.7 L941.1,650.9 L937.0,649.1 L932.8,647.3 L928.7,645.5 L924.6,643.6 L920.5,641.7 L916.4,639.8 L912.3,637.9 L908.3,635.9 L904.2,633.9 L900.2,632.0 L896.1,629.9 L892.1,627.9 L888.1,625.9 L884.1,623.8 L880.1,621.7 L876.2,619.6 L872.2,617.4 L868.3,615.2 L864.3,613.1 L860.4,610.9 L856.5,608.6 L852.7,606.4 L848.8,604.1 L844.9,601.8 L841.1,599.5 L837.3,597.1 L833.5,594.8 L829.7,592.4 L825.9,590.0 L822.2,587.5 L818.5,585.1 L814.7,582.6 L811.0,580.1 L807.4,577.6 L803.7,575.0 L800.0,572.5 L796.4,569.9 L792.8,567.3 L789.2,564.6 L785.6,562.0 L782.1,559.3 L778.5,556.6 L775.0,553.9 L771.5,551.1 L768.0,548.4 L764.6,545.6 L761.2,542.8 L757.7,539.9 L754.3,537.0 L751.0,534.1 L747.6,531.2 L744.3,528.3 L741.0,525.3 L737.7,522.3 L734.4,519.3 L731.1,516.3 L727.9,513.3 L724.6,510.2 L721.4,507.1 L718.2,504.0 L715.0,500.9 L711.9,497.7 L708.7,494.6 L705.6,491.4 L702.4,488.2 L699.3,485.0 L696.2,481.7 L693.1,478.5 L690.0,475.2 L687.0,472.0 L683.9,468.7 L680.9,465.4 L677.8,462.1 L674.8,458.7 L671.8,455.4 L668.8,452.0 L665.8,448.7 L662.8,445.3 L659.8,441.9 L656.8,438.5 L653.9,435.1 L650.9,431.7 L647.9,428.3 L645.0,424.8 L642.0,421.4 L639.1,418.0 L636.2,414.5 L633.2,411.1 L630.3,407.6 L627.4,404.1 L624.5,400.7 L621.6,397.2 L618.7,393.7 L615.7,390.2 L612.8,386.7 L609.9,383.2 L607.0,379.7 L604.1,376.2 L601.2,372.8 L598.3,369.3 L595.4,365.8 L592.5,362.3 L589.6,358.8 L586.6,355.3 L583.7,351.8 L580.8,348.3 L577.9,344.8 L575.0,341.3 L572.1,337.8 L569.1,334.3 L566.2,330.9 L563.3,327.4 L560.3,323.9 L557.4,320.4 L554.4,317.0 L551.5,313.5 L548.5,310.1 L545.5,306.7 L542.5,303.2 L539.6,299.8 L536.5,296.4 L533.5,293.0 L530.5,289.6 L527.5,286.2 L524.4,282.9 L521.4,279.5 L518.3,276.2 L515.2,272.8 L512.2,269.5 L509.0,266.2 L505.9,262.9 L502.8,259.7 L499.7,256.4 L496.5,253.1 L493.3,249.9 L490.1,246.7 L486.9,243.5 L483.7,240.3 L480.5,237.2 L477.2,234.0 L473.9,230.9 L470.7,227.8 L467.3,224.7 L464.0,221.6 L460.7,218.6 L457.3,215.6 L453.9,212.6 L450.5,209.6 L447.1,206.6 L443.6,203.7 L440.2,200.8 L436.7,197.9 L433.1,195.1 L429.6,192.2 L426.0,189.5 L422.4,186.7 L418.8,184.0 L415.2,181.3 L411.5,178.6 L407.8,176.0 L404.1,173.4 L400.3,170.9 L396.5,168.4 L392.7,165.9 L388.9,163.5 L385.0,161.1 L381.1,158.8 L377.2,156.5 L373.2,154.2 L369.2,152.0 L365.2,149.8 L361.1,147.7 L357.0,145.7 L352.9,143.7 L348.8,141.7 L344.6,139.8 L340.4,137.9 L336.2,136.0 L332.0,134.3 L327.7,132.5 L323.4,130.8 L319.1,129.1 L314.8,127.5 L310.5,125.9 L306.2,124.4 L301.8,122.9 L297.5,121.4 L293.1,119.9 L288.7,118.6 L284.3,117.2 L279.9,115.9 L275.5,114.6 L271.1,113.3 L266.7,112.1 L262.2,110.9 L257.8,109.7 L253.4,108.6 L249.0,107.5 L244.5,106.5 L240.1,105.4 L235.7,104.4 L231.3,103.4 L226.8,102.5 L222.4,101.5 L218.0,100.6 L213.7,99.8 L209.3,98.9 L204.9,98.1Z" fill="#050505"/>
</g>
<rect x="204" y="31" width="4" height="745" fill="#050505"/>
<rect x="184" y="771.5" width="1317" height="4.5" fill="#050505"/>
<rect x="190" y="96.0" width="15" height="3" fill="#111"/>
<rect x="190" y="196.5" width="15" height="3" fill="#111"/>
<rect x="190" y="296.0" width="15" height="3" fill="#111"/>
<rect x="190" y="397.0" width="15" height="3" fill="#111"/>
<rect x="190" y="505.0" width="15" height="3" fill="#111"/>
<rect x="190" y="611.0" width="15" height="3" fill="#111"/>
<rect x="184" y="700.3" width="21" height="3.4" fill="#111"/>
<rect x="204.3" y="776" width="2.5" height="9" fill="#222"/>
<rect x="438.40000000000003" y="776" width="2.5" height="9" fill="#222"/>
<rect x="810.8" y="776" width="2.5" height="9" fill="#222"/>
<rect x="1170.5" y="776" width="2.5" height="9" fill="#222"/>
<rect x="1399.8" y="776" width="2.5" height="9" fill="#222"/>
<text x="183.8" y="112" font-size="45" font-weight="normal" fill="#111" text-anchor="end" textLength="91.6" lengthAdjust="spacingAndGlyphs" stroke="#111" stroke-width="1.1">100k</text>
<text x="182.6" y="213.5" font-size="45" font-weight="normal" fill="#111" text-anchor="end" textLength="68.8" lengthAdjust="spacingAndGlyphs" stroke="#111" stroke-width="1.1">10k</text>
<text x="179.8" y="310" font-size="43.5" font-weight="normal" fill="#111" text-anchor="end" textLength="71.3" lengthAdjust="spacingAndGlyphs" stroke="#111" stroke-width="1.1">550</text>
<text x="184.8" y="414.5" font-size="43.5" font-weight="normal" fill="#111" text-anchor="end" textLength="97.6" lengthAdjust="spacingAndGlyphs" stroke="#111" stroke-width="1.1">1,330</text>
<text x="182.8" y="521" font-size="43.5" font-weight="normal" fill="#111" text-anchor="end" textLength="71.3" lengthAdjust="spacingAndGlyphs" stroke="#111" stroke-width="1.1">550</text>
<text x="183.6" y="627.7" font-size="43.5" font-weight="normal" fill="#111" text-anchor="end" textLength="60.2" lengthAdjust="spacingAndGlyphs" stroke="#111" stroke-width="1.1">500</text>
<text x="165.9" y="721.3" font-size="49.5" font-weight="normal" fill="#111" text-anchor="end" textLength="44.6" lengthAdjust="spacingAndGlyphs" stroke="#111" stroke-width="1.1">10</text>
<text x="171.6" y="790.6" font-size="45" font-weight="normal" fill="#111" text-anchor="end" textLength="44.7" lengthAdjust="spacingAndGlyphs" stroke="#111" stroke-width="1.1">10</text>
<g transform="translate(64,596) rotate(-90)" font-size="43" fill="#111" stroke="#111" stroke-width="0.7"><text x="0" y="0" textLength="173.7" lengthAdjust="spacingAndGlyphs">Ressiaaıce</text><text x="177" y="0" textLength="71.8" lengthAdjust="spacingAndGlyphs">(Ω)</text></g>
<text x="185.4" y="823.6" font-size="39" font-weight="normal" fill="#111" text-anchor="start" textLength="85.9" lengthAdjust="spacingAndGlyphs" stroke="#111" stroke-width="0.6">-20K</text>
<text x="399.6" y="823.6" font-size="39" font-weight="normal" fill="#111" text-anchor="start" textLength="85" lengthAdjust="spacingAndGlyphs" stroke="#111" stroke-width="0.6">-20K</text>
<text x="799" y="823.2" font-size="39" font-weight="bold" fill="#111" text-anchor="start" textLength="27.4" lengthAdjust="spacingAndGlyphs" >0</text>
<text x="1106" y="823.6" font-size="39" font-weight="normal" fill="#111" text-anchor="start" textLength="90" lengthAdjust="spacingAndGlyphs" stroke="#111" stroke-width="0.6">+30K</text>
<text x="1356" y="823.6" font-size="39" font-weight="normal" fill="#111" text-anchor="start" textLength="90.8" lengthAdjust="spacingAndGlyphs" stroke="#111" stroke-width="0.6">+30K</text>
<line x1="503.6" y1="810.5" x2="783" y2="810.5" stroke="#8a8a8a" stroke-width="1.5"/>
<line x1="841.5" y1="810" x2="1080" y2="810" stroke="#5a2a4a" stroke-width="1.6"/>
<polyline points="1054,800 1081,810 1054,820.5" fill="none" stroke="#2a2a40" stroke-width="1.6"/>
<text x="384.6" y="885.8" font-size="40" font-weight="normal" fill="#111" text-anchor="start" textLength="548.6" lengthAdjust="spacingAndGlyphs" stroke="#111" stroke-width="0.6">Temperature Offset (TROT-20K</text>
<g stroke="#111" stroke-width="2.6" fill="none"><line x1="955" y1="871.5" x2="1027" y2="871.5"/><polyline points="966,860 954,871.5 966,883"/><polyline points="1016,860 1028,871.5 1016,883"/></g>
<text x="1040.6" y="885.8" font-size="40" font-weight="normal" fill="#111" text-anchor="start" textLength="197.4" lengthAdjust="spacingAndGlyphs" stroke="#111" stroke-width="0.6">TROT+30K)</text>
<text x="1143.4" y="111.4" font-size="49" font-weight="bold" fill="#fefefe" text-anchor="start" textLength="150" lengthAdjust="spacingAndGlyphs" >Danger</text>
<text x="297.5" y="667.5" font-size="50" font-weight="bold" fill="#fefefe" text-anchor="start" textLength="154" lengthAdjust="spacingAndGlyphs" >Normal</text>
<g filter="url(#dinfx)">
<text x="1261" y="233.8" font-size="34" font-weight="bold" fill="#fefefe" stroke="#3a2550" stroke-width="3.2" paint-order="stroke" stroke-linejoin="round" textLength="160" lengthAdjust="spacingAndGlyphs">DIN 4,000</text>
<text x="1431" y="233.8" font-size="29" font-weight="bold" fill="#fefefe" stroke="#3a2550" stroke-width="3" paint-order="stroke" stroke-linejoin="round" textLength="22.5" lengthAdjust="spacingAndGlyphs">Ω</text>
<text x="1261" y="370" font-size="34" font-weight="bold" fill="#fefefe" stroke="#3a2550" stroke-width="3.2" paint-order="stroke" stroke-linejoin="round" textLength="160" lengthAdjust="spacingAndGlyphs">DIN 1,330</text>
<text x="1431" y="370" font-size="29" font-weight="bold" fill="#fefefe" stroke="#3a2550" stroke-width="3" paint-order="stroke" stroke-linejoin="round" textLength="22.5" lengthAdjust="spacingAndGlyphs">Ω</text>
<text x="1261" y="538.8" font-size="34" font-weight="bold" fill="#fefefe" stroke="#3a2550" stroke-width="3.2" paint-order="stroke" stroke-linejoin="round" textLength="130.5" lengthAdjust="spacingAndGlyphs">DIN 550</text>
<text x="1403.5" y="538.8" font-size="29" font-weight="bold" fill="#fefefe" stroke="#3a2550" stroke-width="3" paint-order="stroke" stroke-linejoin="round" textLength="23.5" lengthAdjust="spacingAndGlyphs">Ω</text>
</g>
<rect x="84.6" y="938.7" width="46" height="41.4" fill="url(#lgG)"/>
<text x="143.4" y="972.9" font-size="37.5" font-weight="bold" fill="#22a33a" text-anchor="start" textLength="117.4" lengthAdjust="spacingAndGlyphs" >Normal</text>
<rect x="308.7" y="938.7" width="45.5" height="41.4" fill="url(#lgY)"/>
<text x="367.6" y="972.5" font-size="37.5" font-weight="bold" fill="#e8c21e" text-anchor="start" textLength="198" lengthAdjust="spacingAndGlyphs" >Pre-Warning</text>
<rect x="601.6" y="938.6" width="45.3" height="41.3" fill="#fa6c10"/>
<text x="660" y="972.5" font-size="37.5" font-weight="bold" fill="#f03a20" text-anchor="start" textLength="61.1" lengthAdjust="spacingAndGlyphs" >Trip</text>
<rect x="780.5" y="938.2" width="45.6" height="42.2" fill="url(#lgR)"/>
<text x="838.4" y="972" font-size="37.5" font-weight="bold" fill="#dc1a2a" text-anchor="start" textLength="116.9" lengthAdjust="spacingAndGlyphs" >Danğer</text>
<rect x="990.8" y="948.5" width="101.2" height="21.2" fill="#1c1a18"/>
<g stroke="#999" stroke-width="1"><line x1="1018" y1="932" x2="1018" y2="948.5"/><line x1="1043.4" y1="932" x2="1043.4" y2="948.5"/><line x1="1068" y1="932" x2="1068" y2="948.5"/></g>
<text x="1103.2" y="973" font-size="30.5" font-weight="bold" fill="#222" text-anchor="start" textLength="131.6" lengthAdjust="spacingAndGlyphs" >Focusens</text>
<text x="1251" y="973" font-size="27.5" font-weight="normal" fill="#222" text-anchor="start" textLength="223.6" lengthAdjust="spacingAndGlyphs" stroke="#222" stroke-width="0.4">High-Performance</text>
<line x1="990.8" y1="1001.3" x2="1092" y2="1001.3" stroke="#111" stroke-width="2"/>
<text x="1103.2" y="1010.7" font-size="27.5" font-weight="normal" fill="#222" text-anchor="start" textLength="187.8" lengthAdjust="spacingAndGlyphs" stroke="#222" stroke-width="0.4">DIN Thresholds</text>
</svg></body></html>
